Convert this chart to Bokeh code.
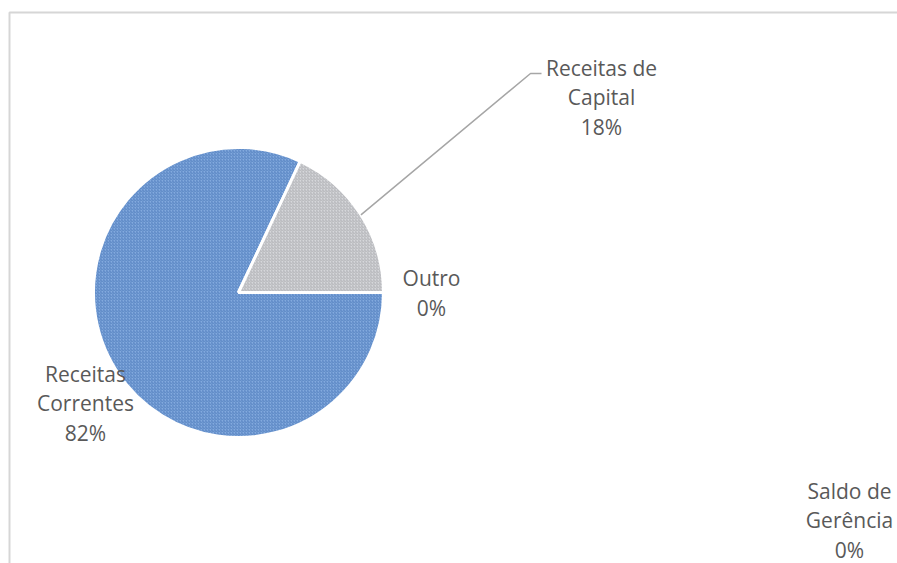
import math
from bokeh.plotting import figure
from bokeh.models import Range1d, ColumnDataSource
from bokeh.core.properties import value
from bokeh.embed import file_html
from bokeh.resources import INLINE

# ---- data ----
categories = ["Receitas Correntes", "Receitas de Capital", "Outro", "Saldo de Gerência"]
label_lines = ["Receitas\nCorrentes", "Receitas de\nCapital", "Outro", "Saldo de\nGerência"]
values = [82, 18, 0, 0]

# ---- layout / style ----
W, H = 897, 563
colors = ["#82aade", "#d6d7da", "#a5a5a5", "#ffc000"]
hatch_colors = ["#3f6db0", "#9c9ea4", "#7f7f7f", "#bf9000"]
center = (238, 271)
radius = 145
label_pos = [(85, 160), (601, 466), (431, 270.5), (849, 43)]
FONT = "Open Sans"
TXT = "#595959"

p = figure(width=W, height=H, output_backend="svg", toolbar_location=None,
           x_range=Range1d(0, W), y_range=Range1d(0, H), min_border=0)
p.axis.visible = False
p.grid.visible = False
p.outline_line_color = None
p.background_fill_color = "white"
p.border_fill_color = "white"

# chart frame (top and left edges visible)
p.line([9, 9, W + 20], [-20, 551, 551], line_color="#d6d6d6", line_width=2)

# wedges: clockwise from 3 o'clock
total = float(sum(values))
starts, ends = [], []
cum = 0.0
for v in values:
    a0 = -cum / total * 2 * math.pi
    cum += v
    a1 = -cum / total * 2 * math.pi
    starts.append(a1)
    ends.append(a0)

nz = [i for i, v in enumerate(values) if v > 0]
src = ColumnDataSource(dict(
    x=[center[0]] * len(nz), y=[center[1]] * len(nz),
    start=[starts[i] for i in nz], end=[ends[i] for i in nz],
    color=[colors[i] for i in nz], hcolor=[hatch_colors[i] for i in nz],
))
p.wedge(x="x", y="y", radius=radius, start_angle="start", end_angle="end",
        direction="anticlock", fill_color="color", line_color="white",
        line_width=3, hatch_pattern="/", hatch_color="hcolor",
        hatch_alpha=0.6, hatch_scale=3, hatch_weight=1, source=src)

# leader line for Receitas de Capital
mid = (starts[1] + ends[1]) / 2
lx0 = center[0] + radius * math.cos(mid)
ly0 = center[1] + radius * math.sin(mid)
p.line([lx0, 530, 541], [ly0, 490, 490], line_color="#a6a6a6", line_width=1.5)

# labels
texts = [f"{lab}\n{round(v / total * 100)}%" for lab, v in zip(label_lines, values)]
p.text(x=[q[0] for q in label_pos], y=[q[1] for q in label_pos], text=texts,
       text_font=value(FONT), text_font_size="21px", text_color=TXT,
       text_align="center", text_baseline="middle", text_line_height=1.05)

open("out.html", "w").write(file_html(p, INLINE))
